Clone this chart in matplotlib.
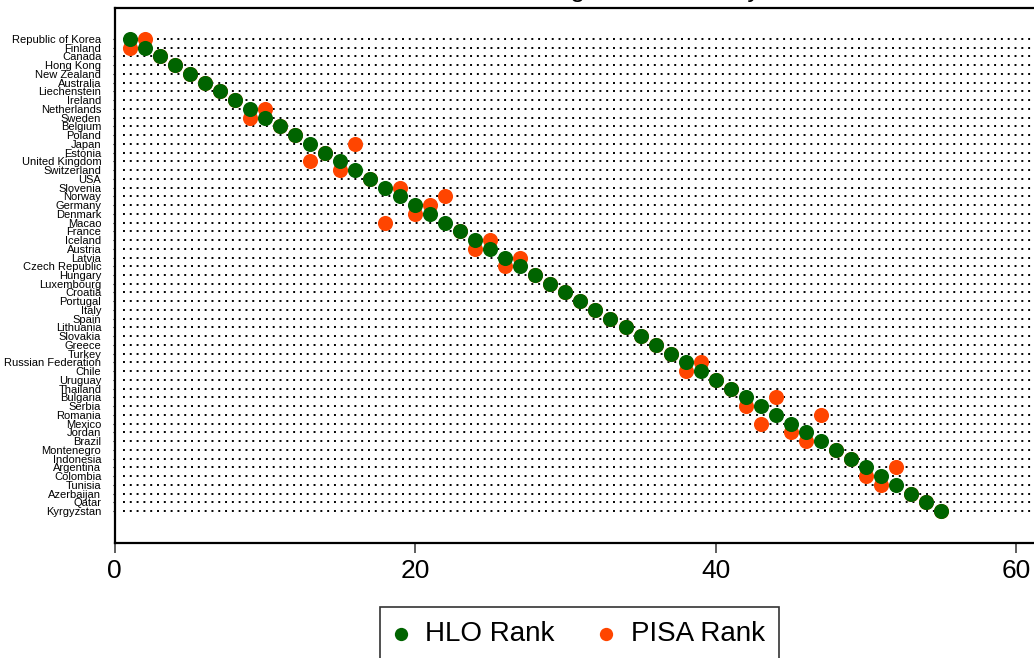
import matplotlib
matplotlib.use("Agg")
import matplotlib.pyplot as plt

plt.rcParams['font.family'] = ['Liberation Sans', 'DejaVu Sans']

countries = [
    "Republic of Korea", "Finland", "Canada", "Hong Kong", "New Zealand",
    "Australia", "Liechenstein", "Ireland", "Netherlands", "Sweden",
    "Belgium", "Poland", "Japan", "Estonia", "United Kingdom",
    "Switzerland", "USA", "Slovenia", "Norway", "Germany",
    "Denmark", "Macao", "France", "Iceland", "Austria",
    "Latvia", "Czech Republic", "Hungary", "Luxembourg", "Croatia",
    "Portugal", "Italy", "Spain", "Lithuania", "Slovakia",
    "Greece", "Turkey", "Russian Federation", "Chile", "Uruguay",
    "Thailand", "Bulgaria", "Serbia", "Romania", "Mexico",
    "Jordan", "Brazil", "Montenegro", "Indonesia", "Argentina",
    "Colombia", "Tunisia", "Azerbaijan", "Qatar", "Kyrgyzstan",
]

hlo_rank = [
    1, 2, 3, 4, 5, 6, 7, 8, 9, 10,
    11, 12, 13, 14, 15, 16, 17, 18, 19, 20,
    21, 22, 23, 24, 25, 26, 27, 28, 29, 30,
    31, 32, 33, 34, 35, 36, 37, 38, 39, 40,
    41, 42, 43, 44, 45, 46, 47, 48, 49, 50,
    51, 52, 53, 54, 55,
]

pisa_rank = [
    2, 1, 3, 4, 5, 6, 7, 8, 10, 9,
    11, 12, 16, 14, 13, 15, 17, 19, 22, 21,
    20, 18, 23, 25, 24, 27, 26, 28, 29, 30,
    31, 32, 33, 34, 35, 36, 37, 39, 38, 40,
    41, 44, 42, 47, 43, 45, 46, 48, 49, 52,
    50, 51, 53, 54, 55,
]

x_ticks = [0, 20, 40, 60]
title_text = "Ranking Differences by Test"

W, H = 1034, 658
fig = plt.figure(figsize=(W / 100, H / 100), dpi=100)

left_px, top_px, bottom_px = 114.5, 8, 543
px_per_unit = 15.03
xmax = 62.0
ax = fig.add_axes([left_px / W, 1 - bottom_px / H,
                   xmax * px_per_unit / W, (bottom_px - top_px) / H])

rows = list(range(1, len(countries) + 1))
row_px = (511 - 39) / 54.0
ytop = 1 - (39 - top_px) / row_px
ybot = len(countries) + (bottom_px - 511) / row_px

ax.hlines(rows, 0.55, xmax, colors='black', linestyles=(0, (1, 2.5)),
          linewidth=1.4, zorder=1)

green = '#006400'
orange = '#FF4500'
ax.scatter(pisa_rank, rows, s=118, color=orange, linewidths=0, zorder=3,
           label='PISA Rank')
ax.scatter(hlo_rank, rows, s=118, color=green, linewidths=0, zorder=4,
           label='HLO Rank')

ax.set_xlim(0, xmax)
ax.set_ylim(ybot, ytop)
ax.set_xticks(x_ticks)
ax.set_xticklabels([str(t) for t in x_ticks])
ax.set_yticks(rows)
ax.set_yticklabels(countries, fontsize=8)

ax.tick_params(axis='x', length=7.2, width=1.1, color='#333333',
               labelsize=19, pad=4)
ax.tick_params(axis='y', length=1.5, width=0.8, pad=8.0)

for side in ['left', 'bottom', 'top']:
    ax.spines[side].set_linewidth(1.6)
ax.spines['right'].set_visible(False)

handles, labels = ax.get_legend_handles_labels()
order = [1, 0]
leg = fig.legend([handles[i] for i in order], [labels[i] for i in order],
                 loc='upper center', bbox_to_anchor=(579.5 / W, 1 - 607 / H),
                 ncol=2, fontsize=20, frameon=True, fancybox=False,
                 edgecolor='black', handlelength=0.47, handletextpad=0.63,
                 columnspacing=1.64, borderpad=0.5, markerscale=0.88,
                 borderaxespad=0)
leg.get_frame().set_linewidth(1.2)

fig.text(488 / W, 1 + 3 / H, title_text, fontsize=19, ha='left',
         va='baseline')

fig.savefig('out.png', dpi=100)
